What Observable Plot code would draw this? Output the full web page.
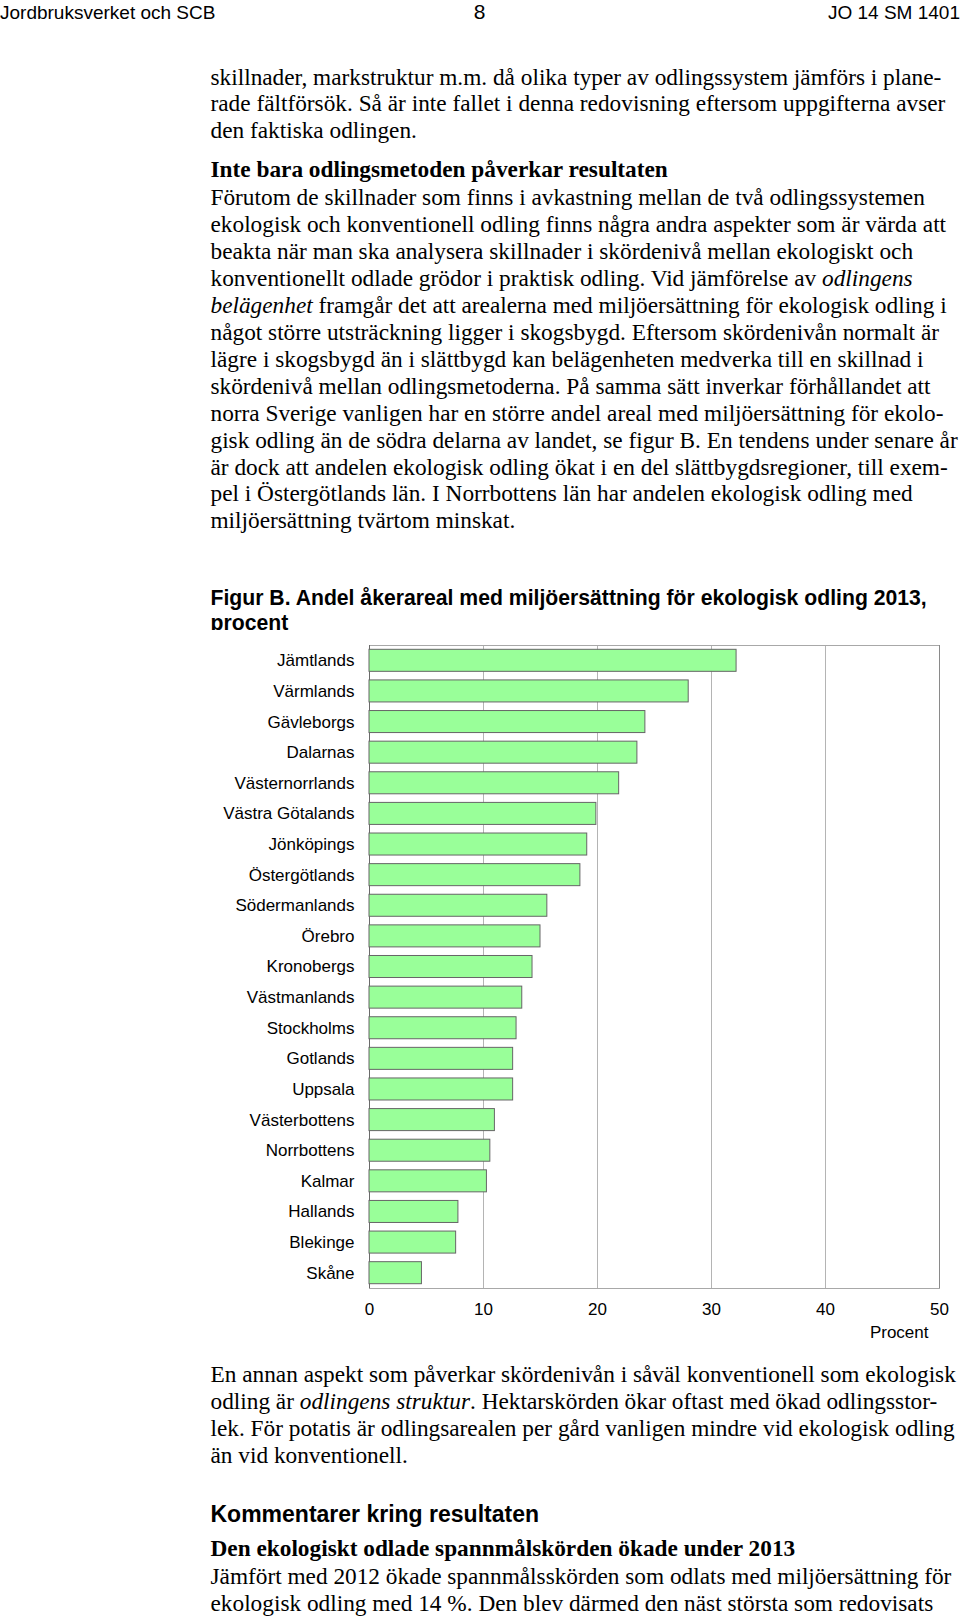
<!DOCTYPE html>
<html lang="sv">
<head>
<meta charset="utf-8">
<script src="https://cdn.jsdelivr.net/npm/d3@7"></script>
<script src="https://cdn.jsdelivr.net/npm/@observablehq/plot@0.6"></script>
<style>
  html, body { margin: 0; padding: 0; background: #fff; }
  body { width: 960px; height: 1619px; position: relative; overflow: hidden; color: #000; }
  .abs { position: absolute; white-space: nowrap; }
  .hdr { font-family: "Liberation Sans", Arial, sans-serif; font-size: 19px; line-height: 22px; top: 2px; }
  .serif { font-family: "Liberation Serif", "Times New Roman", serif; font-size: 23.3px; line-height: 26.95px; left: 210.5px; }
  .bserif { font-family: "Liberation Serif", "Times New Roman", serif; font-size: 23.3px; line-height: 26.95px; font-weight: bold; left: 210.5px; }
  .figtitle { font-family: "Liberation Sans", Arial, sans-serif; font-size: 21.2px; line-height: 24.8px; font-weight: bold; left: 210.5px; }
  .sanshead { font-family: "Liberation Sans", Arial, sans-serif; font-size: 23px; line-height: 27px; font-weight: bold; left: 210.5px; }
  #chart { position: absolute; left: 0; top: 630px; }
</style>
</head>
<body>
<div class="abs hdr" style="left:0">Jordbruksverket och SCB</div>
<div class="abs hdr" style="left:0;width:959px;text-align:center;font-size:21px;top:1px">8</div>
<div class="abs hdr" style="right:0">JO 14 SM 1401</div>

<div class="abs serif" style="top:63.5px">
<div>skillnader, markstruktur m.m. då olika typer av odlingssystem jämförs i plane-</div>
<div>rade fältförsök. Så är inte fallet i denna redovisning eftersom uppgifterna avser</div>
<div>den faktiska odlingen.</div>
</div>

<div class="abs bserif" style="top:156px">Inte bara odlingsmetoden påverkar resultaten</div>

<div class="abs serif" style="top:184px">
<div>Förutom de skillnader som finns i avkastning mellan de två odlingssystemen</div>
<div>ekologisk och konventionell odling finns några andra aspekter som är värda att</div>
<div>beakta när man ska analysera skillnader i skördenivå mellan ekologiskt och</div>
<div>konventionellt odlade grödor i praktisk odling. Vid jämförelse av <i>odlingens</i></div>
<div><i>belägenhet</i> framgår det att arealerna med miljöersättning för ekologisk odling i</div>
<div>något större utsträckning ligger i skogsbygd. Eftersom skördenivån normalt är</div>
<div>lägre i skogsbygd än i slättbygd kan belägenheten medverka till en skillnad i</div>
<div>skördenivå mellan odlingsmetoderna. På samma sätt inverkar förhållandet att</div>
<div>norra Sverige vanligen har en större andel areal med miljöersättning för ekolo-</div>
<div>gisk odling än de södra delarna av landet, se figur B. En tendens under senare år</div>
<div>är dock att andelen ekologisk odling ökat i en del slättbygdsregioner, till exem-</div>
<div>pel i Östergötlands län. I Norrbottens län har andelen ekologisk odling med</div>
<div>miljöersättning tvärtom minskat.</div>
</div>

<div class="abs figtitle" style="top:586px">
<div>Figur B. Andel åkerareal med miljöersättning för ekologisk odling 2013,</div>
<div>procent</div>
</div>

<div id="chart"></div>

<div class="abs serif" style="top:1361px">
<div>En annan aspekt som påverkar skördenivån i såväl konventionell som ekologisk</div>
<div>odling är <i>odlingens struktur</i>. Hektarskörden ökar oftast med ökad odlingsstor-</div>
<div>lek. För potatis är odlingsarealen per gård vanligen mindre vid ekologisk odling</div>
<div>än vid konventionell.</div>
</div>

<div class="abs sanshead" style="top:1501px">Kommentarer kring resultaten</div>
<div class="abs bserif" style="top:1535px">Den ekologiskt odlade spannmålskörden ökade under 2013</div>
<div class="abs serif" style="top:1563px">
<div>Jämfört med 2012 ökade spannmålsskörden som odlats med miljöersättning för</div>
<div>ekologisk odling med 14 %. Den blev därmed den näst största som redovisats</div>
</div>

<script>
const counties = ["Jämtlands","Värmlands","Gävleborgs","Dalarnas","Västernorrlands","Västra Götalands","Jönköpings","Östergötlands","Södermanlands","Örebro","Kronobergs","Västmanlands","Stockholms","Gotlands","Uppsala","Västerbottens","Norrbottens","Kalmar","Hallands","Blekinge","Skåne"];
const shares = [32.2, 28.0, 24.2, 23.5, 21.9, 19.9, 19.1, 18.5, 15.6, 15.0, 14.3, 13.4, 12.9, 12.6, 12.6, 11.0, 10.6, 10.3, 7.8, 7.6, 4.6];
const xTicks = [0, 10, 20, 30, 40, 50];
const xLabel = "Procent";

const data = counties.map((c, i) => ({county: c, value: shares[i]}));

const chart = Plot.plot({
  width: 960,
  height: 720,
  marginLeft: 369,
  marginRight: 21,
  marginTop: 15,
  marginBottom: 62,
  style: {fontFamily: "'Liberation Sans', Arial, sans-serif", fontSize: "17px", color: "#000", background: "#fff", overflow: "visible"},
  x: {domain: [0, 50], ticks: xTicks},
  y: {domain: counties, padding: 0, round: false},
  marks: [
    Plot.gridX(xTicks.slice(1, -1), {stroke: "#b4b4b4", strokeOpacity: 1}),
    Plot.frame({stroke: "#a8a8a8"}),
    Plot.ruleX([50], {stroke: "#8a8a8a"}),
    Plot.ruleX([0], {stroke: "#6a6a6a"}),
    Plot.barX(data, {x: "value", y: "county", fill: "#99ff99", stroke: "#666", strokeWidth: 1, insetTop: 4.3, insetBottom: 4.3}),
    Plot.axisX({ticks: xTicks, tickSize: 0, tickPadding: 14, label: null, fontSize: 17}),
    Plot.axisY({tickSize: 0, tickPadding: 15, label: null, fontSize: 17}),
    Plot.text([xLabel], {frameAnchor: "bottom-right", dx: -11, dy: 49, textAnchor: "end", fontSize: 17})
  ]
});
document.getElementById("chart").appendChild(chart);
</script>
</body>
</html>
